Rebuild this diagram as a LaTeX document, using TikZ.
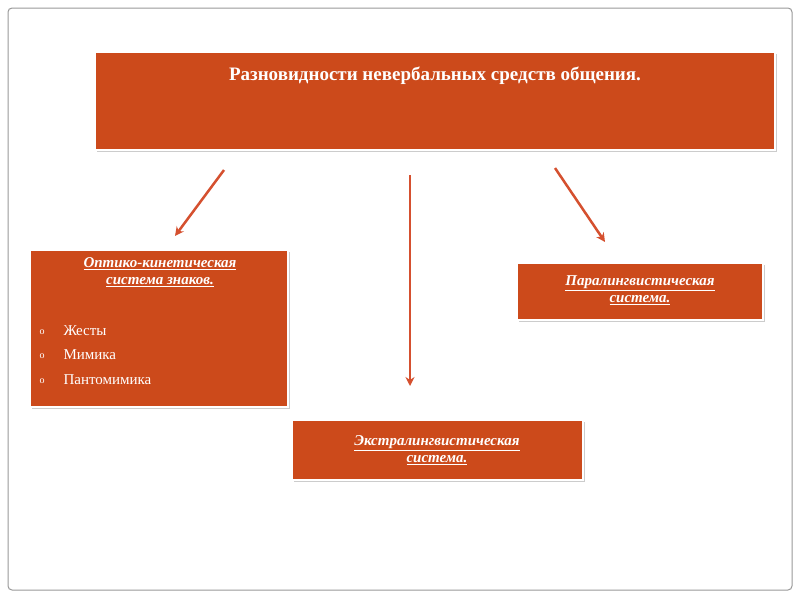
\documentclass[tikz,border=0pt]{standalone}
\usepackage{fontspec}
\setmainfont{Liberation Serif}
\usetikzlibrary{shadows,arrows.meta}
\definecolor{boxor}{HTML}{CC4A1B}
\definecolor{arr}{HTML}{D5502F}
\begin{document}
\begin{tikzpicture}[x=1pt,y=-1pt,
  obox/.style={fill=boxor,draw=white,line width=1.5pt,drop shadow={shadow xshift=2pt,shadow yshift=-2pt,opacity=0.4}},
  lab/.style={text=white,font=\bfseries\itshape\fontsize{15}{17}\selectfont,align=center},
  itm/.style={text=white,font=\fontsize{15}{17}\selectfont,anchor=west},
  arrw/.style={draw=arr,line width=2.5pt,-{Stealth[length=9pt,width=9pt]}}]
\useasboundingbox (0,0) rectangle (800,600);
\fill[white] (0,0) rectangle (800,600);
\draw[gray!80,line width=1pt,rounded corners=4pt] (8,8) rectangle (792,590);
\draw[obox] (95,52) rectangle (775,150);
\node[text=white,font=\bfseries\fontsize{19}{22}\selectfont] (t) at (435,76) {Разновидности невербальных средств общения.};
\draw[obox] (30,250) rectangle (288,407);
\node[lab] (l) at (160,272) {\underline{Оптико-кинетическая}\\\underline{система знаков.}};
\node[itm,text=white] (b1) at (36,332) {\fontsize{10}{12}\selectfont o};
\node[itm] (i1) at (60,331) {Жесты};
\node[itm,text=white] (b2) at (36,356) {\fontsize{10}{12}\selectfont o};
\node[itm] (i2) at (60,355) {Мимика};
\node[itm,text=white] (b3) at (36,381) {\fontsize{10}{12}\selectfont o};
\node[itm] (i3) at (60,380) {Пантомимика};
\draw[obox] (517,263) rectangle (763,320);
\node[lab] (r) at (640,290) {\underline{Паралингвистическая}\\\underline{система.}};
\draw[obox] (292,420) rectangle (583,480);
\node[lab] (m) at (437,450) {\underline{Экстралингвистическая}\\\underline{система.}};
\coordinate (a1) at (224,170); \coordinate (a1e) at (175,236);
\coordinate (a2) at (410,175); \coordinate (a2e) at (410,386);
\coordinate (a3) at (555,168); \coordinate (a3e) at (605,242);
\draw[arrw] (a1) -- (a1e);
\draw[arrw] (a2) -- (a2e);
\draw[arrw] (a3) -- (a3e);
\end{tikzpicture}
\end{document}
